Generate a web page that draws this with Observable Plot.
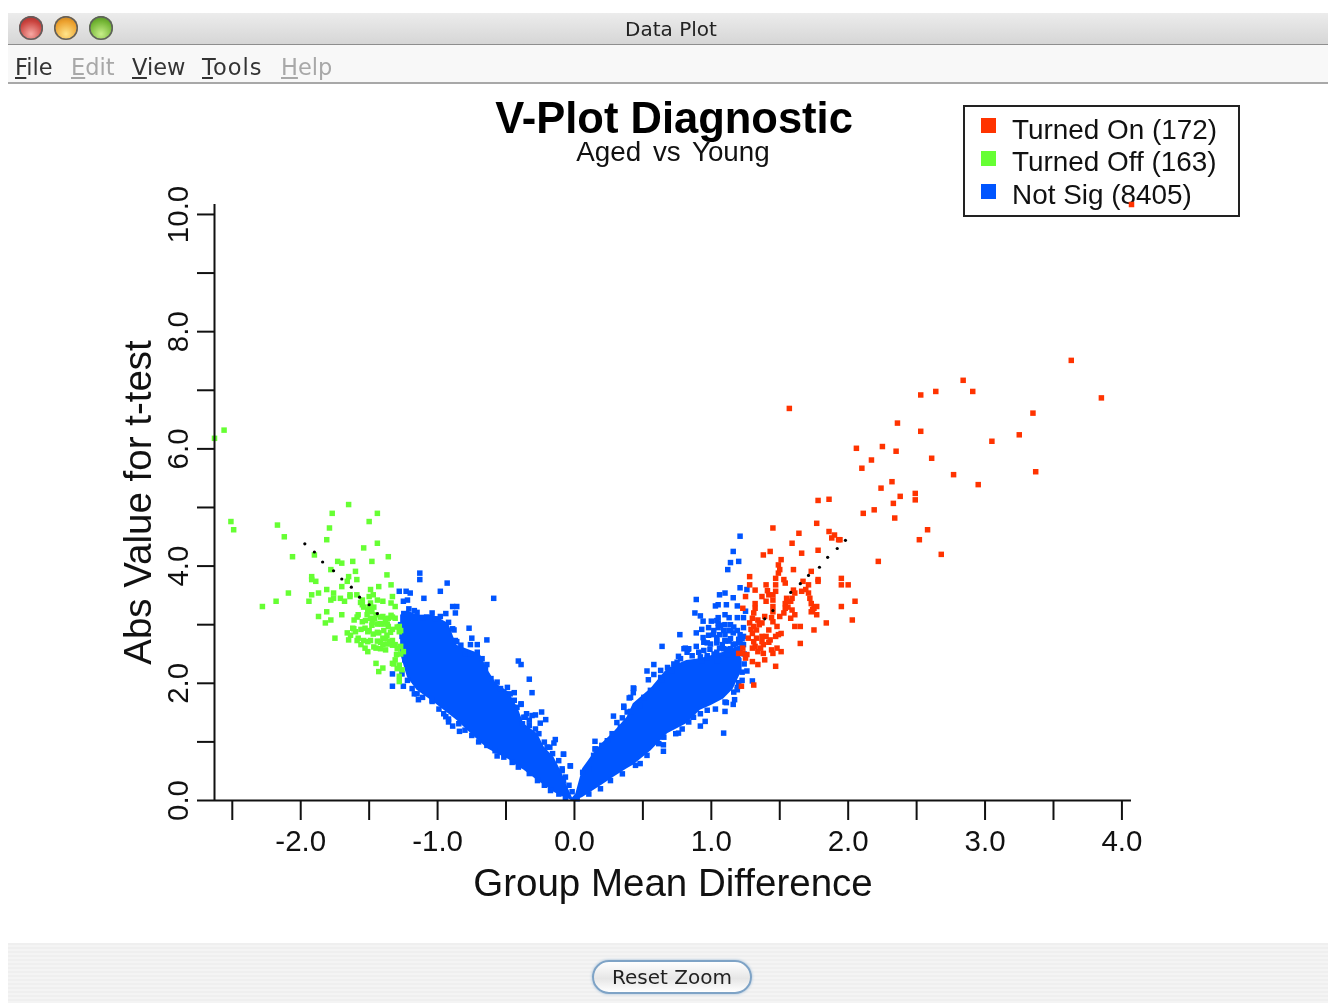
<!DOCTYPE html>
<html><head><meta charset="utf-8">
<script src="https://cdn.jsdelivr.net/npm/d3@7"></script>
<script src="https://cdn.jsdelivr.net/npm/@observablehq/plot@0.6"></script>
<style>
html,body{margin:0;padding:0;background:#fff;width:1328px;height:1003px;overflow:hidden}
#page{position:relative;width:1328px;height:1003px;filter:blur(.45px)}
#page>*{position:absolute}
.sans{font-family:"Liberation Sans",Arial,sans-serif;color:#111}
.ui{font-family:"DejaVu Sans",sans-serif}
#titlebar{left:8px;top:13px;width:1320px;height:32px;background:linear-gradient(#ececec,#d6d6d6);border-bottom:1px solid #8e8e8e;box-sizing:border-box}
#menubar{left:8px;top:45px;width:1320px;height:39px;background:#f8f8f8;border-bottom:2px solid #a8a8a8;box-sizing:border-box}
.light{width:24px;height:24px;border-radius:50%;top:16px;box-shadow:inset 0 0 0 1.5px #5f5f5f}
.menu{top:53px;font-size:22.5px;line-height:28px;color:#333}
.menu.off{color:#a8a8a8}
#footer{left:8px;top:943px;width:1320px;height:60px;background:repeating-linear-gradient(#efefef 0 2px,#f4f4f4 2px 4px)}
#button{left:592px;top:960px;width:160px;height:34px;box-sizing:border-box;border-radius:17px;border:2px solid #7ea3c6;background:linear-gradient(#fff,#e6e6e6 55%,#fff);box-shadow:0 0 3px #9dbcd8;text-align:center;font-size:20px;line-height:30px;color:#222}
#legend{left:962.5px;top:105px;width:277.5px;height:112px;box-sizing:border-box;border:2px solid #222;background:#fff}
.swatch{width:15px;height:15px;left:981px}
.ltext{left:1012px;font-size:27.9px;line-height:32px;white-space:nowrap}
#plot{left:8px;top:84px}
</style></head><body>
<div id="page">
<div id="titlebar"></div>
<div class="light" style="left:19px;background:radial-gradient(circle at 50% 75%,#f7a9a4,#c9423d 60%,#8e2a28)"></div>
<div class="light" style="left:54px;background:radial-gradient(circle at 50% 75%,#ffe58a,#eb9f2c 60%,#a86d1e)"></div>
<div class="light" style="left:89px;background:radial-gradient(circle at 50% 75%,#c8ef8a,#72b433 60%,#44751f)"></div>
<div class="ui" style="left:0;width:1342px;top:16px;text-align:center;font-size:20px;line-height:26px;color:#222">Data Plot</div>
<div id="menubar"></div>
<div class="ui menu" style="left:15px"><u>F</u>ile</div>
<div class="ui menu off" style="left:71px"><u>E</u>dit</div>
<div class="ui menu" style="left:132px"><u>V</u>iew</div>
<div class="ui menu" style="left:202px;letter-spacing:1px"><u>T</u>ools</div>
<div class="ui menu off" style="left:281px"><u>H</u>elp</div>
<div class="sans" style="left:0;width:1348px;top:94px;text-align:center;font-weight:bold;font-size:43.5px;line-height:48px;color:#000">V-Plot Diagnostic</div>
<div class="sans" style="left:0;width:1346px;top:135px;text-align:center;font-size:27.8px;line-height:34px;white-space:pre;word-spacing:4px">Aged vs Young</div>
<div id="legend"></div>
<div class="swatch" style="top:118px;background:#ff3300"></div>
<div class="swatch" style="top:151px;background:#66ff33"></div>
<div class="swatch" style="top:184px;background:#0055ff"></div>
<div class="sans ltext" style="top:114px">Turned On (172)</div>
<div class="sans ltext" style="top:146px">Turned Off (163)</div>
<div class="sans ltext" style="top:179px">Not Sig (8405)</div>
<div id="footer"></div>
<div id="button" class="ui">Reset Zoom</div>
<div id="plot"></div>
</div>
<script>
const turnedOn=[[3.63,7.51],[3.85,6.87],[2.84,7.17],[2.91,6.98],[2.64,6.98],[2.53,6.92],[3.35,6.61],[3.25,6.24],[3.05,6.13],[2.36,6.44],[2.53,6.30],[2.06,6.01],[2.25,6.04],[2.35,5.96],[2.17,5.81],[2.10,5.67],[2.61,5.84],[2.77,5.56],[2.95,5.39],[3.37,5.61],[2.32,5.44],[2.24,5.33],[2.49,5.24],[2.49,5.13],[2.38,5.19],[2.33,5.07],[2.19,4.96],[2.11,4.90],[2.34,4.82],[2.58,4.62],[2.52,4.45],[2.68,4.20],[2.22,4.08],[1.94,4.45],[1.57,6.69],[4.07,10.17],
[1.78,5.12],[1.86,5.14],[1.77,4.73],[1.45,4.65],[1.64,4.56],[1.86,4.59],[1.90,4.53],[1.88,4.48],[1.93,4.45],[1.59,4.39],[1.43,4.25],[1.38,4.19],[1.66,4.22],[1.78,4.27],[1.51,4.11],[1.49,4.02],[1.50,3.94],[1.60,3.94],[1.49,3.88],[1.47,3.79],[1.28,3.82],[1.73,3.91],[1.53,3.77],[1.54,3.71],[1.28,3.68],[1.40,3.68],[1.47,3.68],[1.67,3.74],[1.71,3.68],[1.78,3.77],[1.78,3.74],[1.95,3.79],[1.95,3.68],[2.00,3.68],[1.32,3.59],[1.47,3.57],[1.42,3.51],[1.45,3.51],[1.60,3.59],[1.66,3.57],[1.71,3.54],[1.25,3.48],[1.37,3.48],[1.40,3.40],[1.45,3.42],[1.55,3.45],[1.59,3.45],[1.61,3.54],[1.72,3.45],[2.05,3.40],[1.32,3.36],[1.45,3.31],[1.54,3.36],[1.58,3.40],[1.73,3.36],[1.23,3.28],[1.32,3.28],[1.54,3.28],[1.59,3.25],[1.75,3.28],[1.95,3.31],[1.31,3.20],[1.39,3.14],[1.45,3.22],[1.53,3.20],[1.61,3.17],[1.73,3.22],[1.77,3.17],[1.77,3.31],[1.30,3.11],[1.34,3.08],[1.50,3.14],[1.58,3.11],[2.03,3.08],[1.28,3.03],[1.37,3.03],[1.45,3.05],[1.84,3.03],[1.31,2.97],[1.33,2.91],[1.42,2.91],[1.48,2.97],[1.61,2.97],[1.65,2.97],[1.75,2.91],[1.27,2.77],[1.33,2.77],[1.37,2.80],[1.40,2.80],[1.49,2.83],[1.51,2.85],[1.47,2.80],[1.31,2.71],[1.37,2.71],[1.43,2.74],[1.65,2.68],[1.23,2.60],[1.32,2.63],[1.38,2.66],[1.20,2.51],[1.23,2.51],[1.30,2.60],[1.34,2.54],[1.38,2.51],[1.44,2.57],[1.48,2.60],[1.51,2.54],[1.45,2.51],[1.25,2.43],[1.30,2.37],[1.34,2.32],[1.39,2.40],[1.47,2.29],[1.22,1.95],[1.31,1.97],[1.26,2.49],[1.35,3.00],[1.29,2.92],[1.42,2.70],[1.36,2.60],[1.44,3.12],[1.56,3.30],[1.30,2.85],[1.41,3.58],[1.69,3.60],[1.74,3.26]];
const turnedOff=[[-2.56,6.32],[-2.63,6.18],[-1.65,5.05],[-1.77,4.90],[-1.44,4.90],[-1.50,4.76],[-2.51,4.76],[-2.49,4.62],[-2.17,4.70],[-1.79,4.65],[-2.12,4.50],[-1.81,4.45],[-1.44,4.39],[-1.54,4.31],[-2.06,4.16],[-1.90,4.19],[-1.36,4.16],[-1.73,4.08],[-1.70,4.05],[-1.62,4.08],[-1.48,4.08],[-1.78,3.94],[-1.60,3.91],[-1.37,3.85],[-1.92,3.82],[-1.65,3.82],[-1.92,3.77],[-1.89,3.74],[-1.66,3.74],[-1.59,3.77],[-1.34,3.68],[-1.70,3.65],[-1.43,3.65],[-1.81,3.60],[-1.49,3.60],[-2.09,3.54],[-1.87,3.54],[-1.92,3.51],[-1.76,3.54],[-1.64,3.51],[-1.59,3.51],[-1.47,3.51],[-1.76,3.45],[-1.78,3.42],[-1.71,3.45],[-1.64,3.48],[-1.50,3.48],[-1.33,3.48],[-2.18,3.40],[-1.94,3.40],[-1.68,3.40],[-1.55,3.42],[-1.44,3.42],[-1.40,3.40],[-1.34,3.37],[-2.28,3.31],[-1.55,3.34],[-1.49,3.37],[-1.31,3.31],[-1.81,3.22],[-1.51,3.25],[-1.48,3.22],[-1.87,3.14],[-1.70,3.17],[-1.58,3.17],[-1.45,3.17],[-1.40,3.14],[-1.36,3.11],[-1.31,3.11],[-1.78,3.08],[-1.82,3.03],[-1.61,3.08],[-1.55,3.05],[-1.49,3.11],[-1.38,3.05],[-1.28,2.97],[-1.62,2.94],[-1.53,2.94],[-1.48,2.99],[-1.36,2.97],[-1.66,2.86],[-1.60,2.88],[-1.51,2.88],[-1.43,2.86],[-1.28,2.88],[-1.75,2.77],[-1.65,2.74],[-1.58,2.77],[-1.51,2.71],[-1.40,2.77],[-1.37,2.82],[-1.56,2.66],[-1.31,2.66],[-1.27,2.63],[-1.40,2.66],[-1.45,2.60],[-1.51,2.54],[-1.38,2.57],[-1.25,2.54],[-1.30,2.49],[-1.31,2.40],[-1.45,2.34],[-1.40,2.26],[-1.43,2.20],[-1.26,2.23],[-1.28,2.31],[-1.28,2.12],[-1.28,2.03],[-1.33,2.34],[-1.46,3.10],[-1.42,3.02],[-1.34,3.16],[-1.56,2.92],[-1.44,2.72],[-1.35,2.72],[-1.47,2.84],[-1.33,2.92],[-1.53,2.60],
[-1.563,3.38],[-1.54,3.30],[-1.50,3.30],[-1.466,3.30],[-1.515,3.17],[-1.417,3.13],[-1.38,3.10],[-1.33,3.13],[-1.295,2.96],[-1.27,2.90],[-1.405,3.01],[-1.368,3.01],[-1.588,3.13],[-1.527,3.07],[-1.478,3.04],[-1.44,3.01],[-1.50,2.90],[-1.44,2.87],[-1.393,2.90],[-1.344,2.87],[-1.38,2.76],[-1.417,2.70],[-1.33,2.73],[-1.54,2.73],[-1.49,2.73],[-1.588,2.73],[-1.636,2.82],[-1.612,2.93],[-1.33,2.65],[-1.295,2.59],[-1.466,2.62],[-1.417,2.59],[-1.368,2.67],[-1.27,2.50],[-1.32,2.33],[-1.295,2.25]];
const notSigLeftLoose=[[-1.13,3.88],[-1.13,3.77],[-0.93,3.71],[-0.98,3.57],[-1.28,3.57],[-1.23,3.57],[-1.20,3.54],[-1.10,3.45],[-0.59,3.45],[-1.22,3.42],[-1.25,3.40],[-0.89,3.31],[-0.86,3.31],[-0.87,3.20],[-0.77,2.94],[-0.88,2.91],[-0.75,2.77],[-0.64,2.74],[-0.86,2.71],[-0.76,2.66],[-0.71,2.66],[-0.41,2.38],[-0.39,2.32],[-0.33,2.07],[-0.31,1.84],[-0.44,1.84],[-0.39,1.64],[-0.24,1.51],[-0.21,1.38],[-0.25,1.32],[-0.35,1.48],[-0.31,1.45],[-0.285,1.46],[-0.33,1.37],[-0.36,1.42],[-0.14,1.04],[-0.15,0.98],[-0.18,0.91],[-0.08,0.79],[-0.03,0.59],[-0.565,0.76],[-0.84,1.18],[-0.89,1.27],[-0.92,1.34],[-0.94,1.43],[-1.14,1.72],[-1.04,1.69],[-1.17,1.82],[-1.33,1.95],[-1.25,1.95],[-1.33,2.16],[-1.24,2.40],[-1.26,2.80],[-1.27,3.00]];
const notSigLeftUpper=[[-1.247,3.19],[-1.21,3.27],[-1.17,3.24],[-1.15,3.21],[-1.11,3.12],[-1.08,3.13],[-1.04,3.20],[-1.015,3.10],[-0.98,3.14],[-0.94,3.19],[-0.92,3.04],[-0.89,2.93],[-0.87,2.73],[-0.83,2.65],[-0.80,2.50],[-0.76,2.50],[-0.71,2.53],[-0.675,2.42],[-0.64,2.32],[-0.65,2.25],[-0.61,2.08],[-0.565,2.02],[-0.54,1.91],[-0.49,1.93],[-0.47,1.82],[-0.44,1.71],[-0.39,1.65],[-0.42,1.59],[-0.37,1.42],[-0.38,1.31],[-0.33,1.28],[-0.285,1.22],[-0.26,1.14],[-0.22,0.996],[-0.20,0.91],[-0.16,0.80],[-0.115,0.68],[-0.09,0.54],[-0.066,0.40],[-0.04,0.26],[-0.017,0.15]];
const notSigLeftLower=[[-1.26,2.16],[-1.22,2.05],[-1.186,1.91],[-1.15,1.82],[-1.11,1.76],[-1.04,1.71],[-0.99,1.56],[-0.955,1.48],[-0.92,1.39],[-0.845,1.31],[-0.80,1.20],[-0.75,1.11],[-0.70,1.00],[-0.64,0.94],[-0.58,0.85],[-0.516,0.74],[-0.455,0.65],[-0.41,0.57],[-0.33,0.46],[-0.27,0.34],[-0.22,0.26],[-0.175,0.17],[-0.114,0.11],[-0.066,0.05]];
const notSigRightUpper=[[-0.08,0.34],[-0.09,0.51],[0.06,0.48],[0.105,0.54],[0.14,0.77],[0.154,0.88],[0.20,0.94],[0.24,1.02],[0.275,1.14],[0.336,1.25],[0.385,1.51],[0.36,1.59],[0.41,1.76],[0.434,1.91],[0.48,1.62],[0.507,1.76],[0.555,1.88],[0.60,1.93],[0.63,2.10],[0.68,2.27],[0.714,2.22],[0.75,2.36],[0.80,2.59],[0.835,2.59],[0.86,2.47],[0.93,2.39],[0.97,2.47],[1.04,2.39],[1.09,2.42],[1.13,2.53],[1.21,2.59],[1.24,2.33],[1.225,2.19]];
const notSigRightLower=[[0.02,0.03],[0.105,0.11],[0.19,0.20],[0.263,0.34],[0.35,0.455],[0.446,0.60],[0.48,0.63],[0.53,0.77],[0.616,0.97],[0.653,1.08],[0.74,1.14],[0.787,1.22],[0.835,1.34],[0.87,1.42],[0.92,1.48],[0.97,1.54],[1.03,1.56],[1.10,1.68],[1.164,1.85],[1.19,1.93],[1.225,2.05]];
const notSigRightLoose=[[1.21,4.51],[1.16,4.25],[1.14,4.06],[1.20,4.08],[1.12,3.94],[1.21,3.63],[1.26,3.60],[0.89,3.43],[1.06,3.51],[1.10,3.54],[1.16,3.46],[1.03,3.32],[1.05,3.34],[1.11,3.34],[1.19,3.32],[0.88,3.20],[0.92,3.15],[0.94,3.06],[1.00,3.06],[1.05,3.12],[1.10,3.17],[1.13,3.12],[1.19,3.12],[1.235,3.12],[1.25,3.23],[0.98,2.95],[0.93,2.92],[1.05,3.03],[1.05,2.95],[1.10,3.00],[1.14,3.00],[1.235,2.95],[0.89,2.86],[0.77,2.83],[0.94,2.78],[1.015,2.83],[1.06,2.83],[1.10,2.83],[1.16,2.86],[1.21,2.83],[1.235,2.80],[1.04,2.78],[0.97,2.69],[1.04,2.69],[1.10,2.72],[1.16,2.66],[1.21,2.69],[1.235,2.66],[0.89,2.63],[0.64,2.63],[1.06,2.60],[1.11,2.58],[1.185,2.58],[0.99,2.58],[0.81,2.60],[0.83,2.58],[0.76,2.46],[0.97,2.43],[0.58,2.32],[0.53,2.21],[0.58,2.15],[0.54,2.06],[0.64,2.06],[0.43,1.92],[0.43,1.84],[0.40,1.75],[0.36,1.61],[0.41,1.52],[0.285,1.44],[0.35,1.41],[0.31,1.33],[0.15,1.01],[0.15,0.88],[-0.08,0.79],[-0.03,0.59],[0.65,0.84],[0.65,0.95],[0.76,1.15],[0.92,1.27],[0.955,1.35],[1.09,1.15],[1.10,1.52],[1.11,1.67],[1.16,1.64],[1.17,1.72],[1.30,2.04],[1.26,2.21],[1.20,2.01],[1.19,1.89],[1.14,2.90],[1.20,2.75],[1.08,2.66],[1.13,2.72],[1.18,2.50],[1.24,2.50],[1.02,2.50],[1.12,2.48],
[1.04,3.07],[1.067,2.99],[1.09,2.90],[1.128,2.90],[1.164,2.96],[1.19,2.90],[1.018,2.90],[0.98,2.82],[0.945,2.70],[0.994,2.67],[1.04,2.73],[1.10,2.73],[1.14,2.76],[1.176,2.67],[1.225,2.76],[1.225,2.65],[0.908,2.53],[0.945,2.56],[1.04,2.53],[1.09,2.59],[1.14,2.59],[0.92,2.45],[1.19,2.50],[0.823,2.53],[0.775,2.42],[0.726,2.33],[0.63,2.22],[0.677,2.10]];
const trendLine=[[1.39,3.10],[1.45,3.24],[1.58,3.55],[1.65,3.70],[1.71,3.84],[1.79,3.98],[1.85,4.15],[1.92,4.30],[1.98,4.44],[-1.97,4.38],[-1.90,4.24],[-1.84,4.07],[-1.76,3.92],[-1.70,3.78],[-1.63,3.64],[-1.57,3.47],[-1.50,3.34],[-1.44,3.19]];
// The densest part of the 8405-point cloud, read as its upper and lower outline.
const coreLeftX=[-1.27,-1.22,-1.15,-1.03,-0.92,-0.86,-0.69,-0.63,-0.57,-0.48,-0.41,-0.37,-0.27,-0.22,-0.15,-0.09,-0.05,-0.01];
const coreLeftHigh=[3.16,3.24,3.16,3.16,3.02,2.65,2.50,2.22,1.99,1.85,1.56,1.31,1.14,0.91,0.74,0.46,0.23,0.02];
const coreLeftLow=[2.50,2.10,1.88,1.68,1.48,1.37,1.00,0.88,0.80,0.70,0.57,0.52,0.34,0.26,0.14,0.07,0.03,0.00];
const coreRightX=[-0.03,0.01,0.06,0.14,0.20,0.29,0.385,0.43,0.56,0.68,0.82,0.92,1.00,1.09,1.16,1.225];
const coreRightHigh=[0.00,0.11,0.54,0.80,0.97,1.17,1.42,1.65,1.91,2.25,2.39,2.42,2.47,2.53,2.62,2.42];
const coreRightLow=[0.00,0.00,0.05,0.17,0.26,0.40,0.54,0.60,0.85,1.14,1.31,1.54,1.62,1.73,1.90,2.22];
const xTicks=[-2.5,-2,-1.5,-1,-0.5,0,0.5,1,1.5,2,2.5,3,3.5,4];
const yTicks=[0,1,2,3,4,5,6,7,8,9,10];
const RED="#ff3300",GREEN="#66ff33",BLUE="#0055ff";
const notSig=[...notSigLeftLoose,...notSigLeftUpper,...notSigLeftLower,...notSigRightUpper,...notSigRightLower,...notSigRightLoose];
const square={x:d=>d[0],y:d=>d[1],symbol:"square",r:3.1,clip:false};
const band=(xs,hi,lo)=>Plot.areaY(xs,{x:d=>d,y1:(d,i)=>lo[i],y2:(d,i)=>hi[i],fill:BLUE});
const chart=Plot.plot({
  width:1320,height:859,marginLeft:206,marginRight:197,marginTop:120,marginBottom:143,
  style:{background:"transparent",fontFamily:"Liberation Sans, Arial, sans-serif",color:"#111"},
  x:{domain:[-2.63,4.07],axis:null},
  y:{domain:[0,10.17],axis:null},
  marks:[
    band(coreLeftX,coreLeftHigh,coreLeftLow),
    band(coreRightX,coreRightHigh,coreRightLow),
    Plot.dot(notSig,{...square,fill:BLUE}),
    Plot.dot(turnedOff,{...square,fill:GREEN}),
    Plot.dot(turnedOn,{...square,fill:RED}),
    Plot.dot(trendLine,{x:d=>d[0],y:d=>d[1],r:1.6,fill:"#000"}),
    Plot.ruleY([0],{stroke:"#111",strokeWidth:2}),
    Plot.ruleX([-2.63],{stroke:"#111",strokeWidth:2}),
    Plot.axisX({ticks:xTicks,tickSize:20,tickPadding:10,fontSize:29.5,stroke:"#111",strokeWidth:2,label:null,tickFormat:d=>Number.isInteger(d)?d.toFixed(1):""}),
    Plot.axisY({ticks:yTicks,tickSize:17,tickPadding:10,fontSize:29.5,stroke:"#111",strokeWidth:2,label:null,tickRotate:-90,textAnchor:"middle",tickFormat:d=>d%2===0?d.toFixed(1):""}),
    Plot.text(["Group Mean Difference"],{frameAnchor:"bottom",dy:95,fontSize:38.5,fill:"#111"}),
    Plot.text(["Abs Value for t-test"],{frameAnchor:"left",textAnchor:"middle",dx:-76,rotate:-90,fontSize:38.5,fill:"#111"})
  ]
});
document.getElementById("plot").append(chart);
</script>
</body></html>
